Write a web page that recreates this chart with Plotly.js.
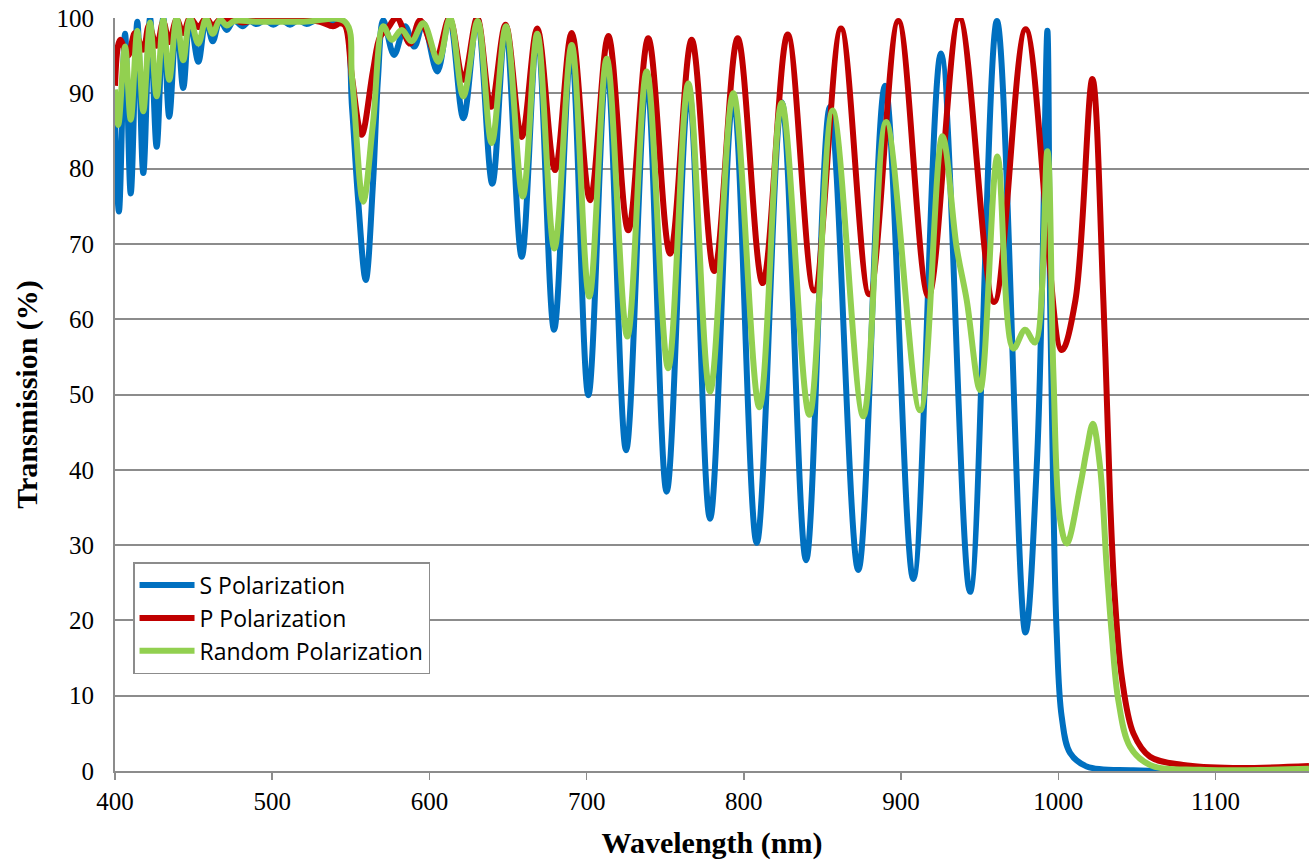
<!DOCTYPE html>
<html>
<head>
<meta charset="utf-8">
<script src="https://cdn.plot.ly/plotly-3.0.1.min.js"></script>
<style>
  html, body { margin: 0; padding: 0; background: #ffffff; }
  #chart { width: 1309px; height: 864px; }
</style>
</head>
<body>
<div id="chart"></div>
<script>
// Wavelength (nm) / transmission (%)
const sWavelength = [400, 402.5, 406.4, 410.0, 414.2, 418.0, 422.3, 426.5, 430.7, 434.5, 439.2, 443.4, 447.7, 453.0, 457.9, 462.2, 466.8, 471.1, 475.7, 481.2, 485.5, 490.1, 495.5, 500.7, 506, 511.3, 516.5, 521.9, 528, 534.7, 541, 546.3, 550.8, 554.6, 559.5, 564.1, 567.3, 570.7, 577.5, 584.5, 590.4, 596.1, 605.0, 612.7, 621.6, 630.4, 640.0, 648.4, 658.7, 668.6, 679.3, 690.2, 701.1, 712.8, 725.1, 738.2, 750.9, 765.0, 778.5, 793.3, 808.2, 824.1, 839.6, 854.8, 872.8, 889.8, 907.8, 925.4, 943.9, 961.0, 979.1, 986.3, 989.5, 993.1, 994.8, 996.9, 999.0, 1002.2, 1007.5, 1018.1, 1047.8, 1100, 1159.5];
const sValues = [86, 74.3, 97.9, 76.7, 99.5, 79.4, 100, 82.9, 100, 86.9, 100, 90.7, 100, 94.2, 99.9, 96.9, 99.8, 98.4, 99.7, 98.9, 99.6, 99.2, 99.7, 99.1, 99.7, 99.1, 99.7, 99.2, 99.7, 99.4, 99.7, 99.2, 88, 76, 65.2, 78, 92, 99.7, 95.1, 98.9, 96.2, 99.3, 92.9, 100, 86.7, 100, 78.0, 99.0, 68.3, 98.2, 58.6, 96.0, 49.9, 94.0, 42.6, 92.0, 37.1, 90.5, 33.5, 89.6, 30.3, 88.8, 28.0, 88.2, 26.7, 91.0, 25.5, 95.3, 23.8, 99.6, 18.4, 40.4, 62.5, 98.3, 62.5, 36, 18.3, 7.2, 2.4, 0.6, 0.1, 0.05, 0.05];

const pWavelength = [400, 403.2, 408.3, 412.7, 418.0, 421.6, 426.5, 430.7, 434.5, 439.2, 443.4, 447.7, 453.0, 457.9, 462.2, 466.8, 475, 481.2, 490, 520, 530.4, 538.7, 543.1, 546.3, 550.8, 556.9, 564.1, 568.6, 573, 579.2, 587.7, 594.0, 604.6, 612.7, 621.6, 630.4, 639.2, 648.4, 658.7, 668.6, 679.9, 690.5, 702.2, 713.8, 726.5, 739.2, 753.1, 766.8, 781.2, 796.1, 812.0, 827.9, 844.7, 861.8, 879.8, 898.3, 917.4, 937.1, 959.2, 979.3, 1002.2, 1010.9, 1021.7, 1028.7, 1033.0, 1036.1, 1040.4, 1047.8, 1058.4, 1079.4, 1111.2, 1159.5];
const pValues = [91, 97.1, 95, 98, 95.8, 99, 96.3, 99.5, 96.8, 99.8, 98, 100, 98.8, 100, 99, 99.8, 99.8, 99.4, 99.8, 99.8, 99.5, 98.9, 99.3, 99, 92, 84.5, 93, 97.5, 98.5, 100, 96.6, 99.7, 95.1, 100, 91.8, 100, 88.2, 99.1, 84.2, 98.6, 79.8, 98.0, 75.8, 97.6, 71.8, 97.3, 68.7, 97.1, 66.4, 97.3, 64.8, 97.8, 63.8, 98.6, 63.3, 99.6, 63.1, 100, 62.3, 98.5, 55.9, 62.5, 91.9, 62.5, 36, 22.7, 12.5, 5, 1.9, 0.8, 0.4, 0.66];

const rWavelength = [400, 402.1, 406.4, 410.0, 414.2, 418.0, 422.3, 426.5, 430.7, 434.5, 439.2, 443.4, 447.7, 453.0, 457.9, 462.2, 466.8, 471.1, 476, 490, 520, 546.3, 550.8, 557.9, 564.1, 570.7, 576.0, 582.4, 588.7, 596.1, 605.7, 613.1, 621.6, 630.7, 639.6, 648.7, 659.4, 668.6, 679.5, 690.5, 701.7, 712.8, 725.9, 738.2, 751.9, 764.7, 778.5, 793.3, 809.9, 824.1, 841.7, 856.5, 876.0, 890.5, 912.1, 926.3, 935.4, 941.8, 950.3, 961.3, 971.4, 978.9, 985.2, 993.1, 996.9, 1001.1, 1005.4, 1013.9, 1018.1, 1022.0, 1026.6, 1030.8, 1034.0, 1038.2, 1045.7, 1058.4, 1090.2, 1159.5];
const rValues = [90.5, 85.8, 96.2, 86.5, 98.3, 87.6, 99.4, 89.6, 99.8, 91.8, 100, 94.4, 100, 96.6, 99.9, 97.9, 99.8, 99.0, 99.6, 99.5, 99.5, 99.5, 92, 75.6, 86, 98.9, 97.1, 98.4, 96.9, 99.3, 94.2, 100, 89.6, 99.6, 83.4, 98.9, 76.3, 97.9, 69.4, 96.4, 63.0, 94.6, 57.7, 92.9, 53.5, 91.3, 50.4, 90.0, 48.3, 88.7, 47.3, 87.7, 47.1, 86.2, 47.9, 84.3, 69.5, 62.5, 50.6, 81.6, 56.1, 58.6, 56.9, 82.3, 52.8, 33.5, 30.2, 37.8, 42.6, 46.1, 40.4, 27.1, 18.3, 9.4, 3.2, 0.8, 0.15, 0.3];

const seriesNames = ['S Polarization', 'P Polarization', 'Random Polarization'];
const seriesColors = ['#0070C0', '#C00000', '#92D050'];
const xTicks = [400, 500, 600, 700, 800, 900, 1000, 1100];
const yTicks = [0, 10, 20, 30, 40, 50, 60, 70, 80, 90, 100];

const xs = [sWavelength, pWavelength, rWavelength];
const ys = [sValues, pValues, rValues];

const traces = seriesNames.map((name, i) => ({
  type: 'scatter',
  mode: 'lines',
  name: name,
  legendgroup: 'g' + i,
  x: xs[i],
  y: ys[i],
  line: { color: seriesColors[i], width: 6, shape: 'spline', smoothing: 1 }
}));

const grey = '#8c8c8c';
const layout = {
  width: 1309,
  height: 864,
  margin: { l: 115, r: 0, t: 18, b: 93 },
  paper_bgcolor: '#ffffff',
  plot_bgcolor: '#ffffff',
  showlegend: true,
  legend: {
    x: 0.0151, y: 0.2775, xanchor: 'left', yanchor: 'top',
    bgcolor: '#ffffff', bordercolor: grey, borderwidth: 1.5,
    font: { family: '"Open Sans", sans-serif', size: 23, color: '#000000' },
    itemwidth: 55, traceorder: 'grouped', tracegroupgap: 0
  },
  xaxis: {
    range: [400, 1159.5],
    tickvals: xTicks,
    ticktext: xTicks.map(String),
    showgrid: false,
    zeroline: false,
    showline: true, linecolor: grey, linewidth: 2,
    ticks: 'outside', ticklen: 7, tickwidth: 1.5, tickcolor: grey,
    tickfont: { family: '"Liberation Serif", serif', size: 25, color: '#000000' },
    title: { text: 'Wavelength (nm)', font: { family: '"Liberation Serif", serif', size: 30, color: '#000000', weight: 'bold' }, standoff: 18 }
  },
  yaxis: {
    range: [0, 100],
    tickvals: yTicks,
    ticktext: yTicks.map(String),
    showgrid: true, gridcolor: grey, gridwidth: 2,
    zeroline: false,
    showline: true, linecolor: grey, linewidth: 2,
    ticks: '',
    ticklabelstandoff: 14,
    tickfont: { family: '"Liberation Serif", serif', size: 25, color: '#000000' },
    title: { text: 'Transmission (%)', font: { family: '"Liberation Serif", serif', size: 30, color: '#000000', weight: 'bold' }, standoff: 10 }
  }
};

Plotly.newPlot('chart', traces, layout, { displayModeBar: false, staticPlot: true });
</script>
</body>
</html>
